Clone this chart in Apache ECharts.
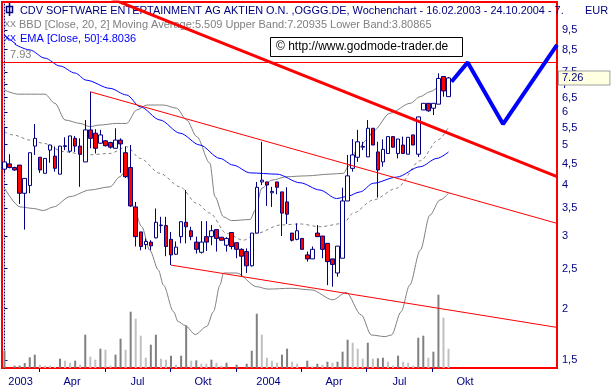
<!DOCTYPE html>
<html><head><meta charset="utf-8">
<script src="https://cdn.jsdelivr.net/npm/echarts@6/dist/echarts.min.js"></script>
<style>html,body{margin:0;padding:0;background:#fff}#c{width:614px;height:392px}</style>
</head><body><div id="c"></div>
<script>
// ---- data (weekly candles: open, close, low, high) ----
const candles = [
[4.36,4.54,4.26,5.48],[4.49,4.40,4.38,4.74],[4.40,4.34,4.32,4.42],[4.46,3.81,3.59,4.46],[3.81,4.14,3.11,4.14],
[3.98,4.78,3.81,4.78],[4.96,5.18,4.72,5.61],[4.66,4.34,4.27,4.66],[4.26,4.63,4.26,4.63],[4.85,4.99,4.52,5.00],
[4.69,4.38,4.30,4.95],[4.24,4.96,4.24,4.96],[4.95,4.97,4.85,5.21],[4.82,5.25,4.78,5.25],[5.18,4.96,4.80,5.25],
[4.96,4.74,3.95,5.18],[4.54,5.43,4.54,5.74],[5.43,5.18,4.90,6.72],[5.33,4.90,4.76,5.45],[5.04,5.28,5.02,5.43],
[5.11,4.97,4.95,5.13],[5.06,4.93,4.89,5.08],[4.90,5.13,4.90,5.48],[5.13,5.02,4.27,5.18],[4.78,4.18,4.15,4.95],
[4.40,3.55,3.53,4.99],[3.53,2.99,2.83,3.63],[3.07,2.83,2.77,3.07],[2.86,2.91,2.785,2.96],[2.90,2.84,2.77,2.93],
[2.97,3.24,2.96,3.50],[3.18,3.19,3.05,3.34],[3.18,2.83,2.68,3.34],[2.945,2.70,2.55,3.07],[2.71,2.82,2.70,2.91],
[2.99,3.25,2.88,3.25],[3.24,3.16,2.88,3.88],[3.09,2.99,2.93,3.16],[2.90,2.785,2.72,2.99],[2.74,2.90,2.72,3.26],
[2.99,2.90,2.76,3.26],[2.99,3.09,2.85,3.19],[3.11,2.96,2.75,3.11],[2.98,2.93,2.93,2.98],[2.85,2.96,2.75,2.98],
[3.06,2.83,2.785,3.06],[2.89,2.785,2.65,2.89],[2.785,2.68,2.39,2.80],[2.75,2.54,2.44,2.80],[2.54,3.05,2.53,3.05],
[3.05,3.94,3.05,4.06],[4.06,4.10,3.99,5.08],[4.06,3.99,3.55,4.06],[3.82,3.85,3.53,3.95],[4.06,3.94,3.79,4.06],
[3.84,3.41,3.00,3.84],[3.63,3.39,3.21,3.94],[3.05,2.93,2.91,3.05],[2.945,3.09,2.93,3.22],[2.96,2.785,2.785,2.96],
[2.70,2.64,2.60,2.75],[2.64,2.785,2.64,2.83],[3.05,2.99,2.99,3.19],[3.00,2.785,2.65,3.00],[2.88,2.60,2.28,2.88],
[2.64,2.56,2.26,2.64],[2.44,2.835,2.39,2.835],[2.65,3.65,2.65,3.93],[3.65,4.20,3.65,4.72],[4.38,4.72,4.30,5.16],
[4.66,5.08,4.54,5.43],[4.93,4.95,4.85,5.08],[4.67,5.48,4.67,5.74],[5.48,4.99,4.99,5.48],[4.80,4.34,3.72,5.08],
[4.54,4.87,4.42,5.15],[4.76,5.23,4.76,5.23],[5.23,4.93,4.92,5.23],[4.76,5.16,4.63,5.16],[4.99,4.76,4.76,5.23],
[4.74,5.21,4.74,5.21],[5.28,4.99,4.99,5.28],[4.74,5.84,4.67,5.84],[6.07,6.30,6.07,6.30],[6.30,6.04,6.01,6.30],
[6.13,6.30,5.90,6.30],[6.27,7.24,6.27,7.45],[7.32,6.75,6.54,7.34],[6.54,7.26,6.54,7.30]
];
const volumes = [
17.3,0,2.3,2.5,5,10.7,13.3,3.3,2.3,2.3,1.3,9.3,7.3,5.3,7.3,3.3,33.3,11.3,8.3,19.3,
18.3,2.3,13.3,29.3,18.3,56.3,49.3,32.3,10.3,23.3,33.3,9.3,8.3,12.3,3.3,12.3,42.3,7.3,7.6,4.3,
4.3,8.3,5.3,2.3,5.3,0,3.3,0,4.3,17.3,54.3,33.3,10.3,7.3,5.3,13.3,19.3,6.3,4.3,0,
7.3,1.7,4.3,3.3,6.3,5.3,6.3,16.3,28.3,25.3,19.3,9.3,25.3,9.3,9.7,10.3,6.3,2.3,12.3,6.3,
5.3,2.3,30.3,32.3,10.3,16.3,73.3,50.3,19.3
];
// indicator lines: [week index, price]
const bbUpper = [[0,6.78],[2.7,6.63],[8,6.63],[10,6.30],[12,5.74],[15,5.63],[16.9,5.53],[18.9,5.58],[22.2,5.63],[24.2,5.63],[26.2,6.07],[28.2,6.24],[31.5,6.24],[34.1,6.13],[36.1,5.74],[38.1,5.23],[40.7,4.51],[41.7,3.74],[43.4,3.34],[45,3.27],[48.7,3.29],[49.7,3.47],[51,3.92],[53,4.10],[55.9,4.18],[59.9,4.20],[64.5,4.24],[67.2,4.26],[68.1,4.42],[69.8,4.85],[71.8,5.13],[73.1,5.40],[76.4,5.96],[80.4,6.30],[82.4,6.54],[84.3,6.72],[86.3,6.91],[88,7.21]];
const bbLower = [[0,3.92],[3.1,3.53],[5.7,3.50],[7.7,3.46],[9.7,3.53],[13,3.74],[16.9,3.88],[20.9,3.95],[22.9,4.18],[23.9,4.30],[24.9,4.03],[25.5,3.53],[27.2,3.16],[28.8,2.77],[30.5,2.48],[31.5,2.28],[33.5,1.965],[34.4,1.86],[35.8,1.82],[37.8,1.73],[40.1,1.81],[41.4,1.965],[42.7,2.28],[43.4,2.44],[46,2.44],[50,2.26],[52.2,2.23],[56.8,2.24],[60.8,2.22],[65.1,2.10],[67.7,2.19],[70.7,1.93],[72.7,1.725],[75.4,1.71],[76.7,1.725],[78.6,1.965],[80.3,2.28],[82.4,2.77],[84.3,3.37],[86.3,3.67],[88,3.81]];
const bbMid = [[0,5.37],[1.7,5.28],[5.05,5.13],[7.7,5.04],[11.65,4.81],[16.3,4.72],[20.9,4.76],[24.2,4.94],[26.9,4.63],[30.8,4.26],[34.8,3.95],[38.1,3.60],[40.7,3.41],[44,3.045],[47.3,2.93],[50,3.045],[54.6,3.19],[58.6,3.21],[62.5,3.16],[67.2,3.22],[69.1,3.41],[73.1,3.67],[77.7,3.92],[82.4,4.57],[86,5.14],[88,5.51]];
const ema50 = [[2,8.77],[5,8.49],[8,8.11],[11,7.76],[14,7.46],[16.2,7.17],[20.9,6.85],[24.2,6.60],[26.9,6.18],[30.8,5.74],[34.8,5.33],[38.7,4.99],[42.7,4.63],[45.3,4.46],[48.7,4.27],[54,4.24],[58.6,4.04],[62.5,3.88],[65.8,3.70],[67.8,3.74],[70.5,3.84],[73.1,4.03],[77.7,4.17],[82.4,4.42],[85.7,4.63],[88,4.80]];
const trendMain = [[21,11.33],[109.5,4.18]];
const trendUpper = [[17,6.72],[109.5,3.22]];
const trendLower = [[33,2.55],[109.5,1.80]];
const projection = [[88.6,7.11],[91.8,7.92],[98.8,5.61],[109.5,8.73]];
const resistance = 7.93;
const lastPrice = 7.26;
const yTicks = [1.5,2,2.5,3,3.5,4,4.5,5,5.5,6,6.5,7,7.5,8.5,9.5];
const xLabels = ['2003','Apr','Jul','Okt','2004','Apr','Jul','Okt'];
const titleText = 'CDV SOFTWARE ENTERTAINMENT AG AKTIEN O.N. ,OGGG.DE, Wochenchart - 16.02.2003 - 24.10.2004 - 7.';
const bbText = 'BBD [Close, 20, 2] Moving Average:5.509 Upper Band:7.20935 Lower Band:3.80865';
const emaText = 'EMA [Close, 50]:4.8036';
const copyText = '\u00A9 http://www.godmode-trader.de';

// ---- layout ----
const NCAT = 110;
const start = new Date(Date.UTC(2003,1,16));
const cats = [];
for (let i = 0; i < NCAT; i++) {
  const d = new Date(start.getTime() + i*7*86400000);
  cats.push(d.toISOString().slice(0,10));
}
const firstTick = 6.89, quarter = 12.98;
const xTickPos = [0,1,2,3,4,5,6].map(k => +(firstTick + k*quarter).toFixed(2));
const xLabelPos = xLabels.map((t,k) => k === 0 ? 3.17 : +(firstTick + (k-0.5)*quarter).toFixed(2));
const labelMap = {};
xLabelPos.forEach((p,k) => labelMap[p.toFixed(2)] = xLabels[k]);

const FONT = '"Liberation Sans", Arial, sans-serif';
const NAVY = '#000080';
const chart = echarts.init(document.getElementById('c'), null, {renderer:'canvas'});

const lineS = (data, color, width, type, z) => ({
  type:'line', xAxisIndex:2, yAxisIndex:0, data, showSymbol:false, symbol:'none',
  smooth: false, lineStyle:{color, width, type: type || 'solid'}, z, silent:true, clip:true
});
const smoothS = (data, color, width, type, z) => Object.assign(lineS(data,color,width,type,z), {smooth:0.3, smoothMonotone:'x'});

chart.setOption({
  animation:false,
  backgroundColor:'#ffffff',
  grid:[
    {left:2, right:57, top:2, bottom:24, show:true, borderColor:'#ff0000', borderWidth:2, backgroundColor:'transparent'},
    {left:2, right:57, top:268, bottom:24}
  ],
  xAxis:[
    {type:'category', gridIndex:0, data:cats, show:false},
    {type:'category', gridIndex:1, data:cats, show:false},
    {type:'value', gridIndex:0, min:-0.5, max:109.5, position:'bottom',
     axisLine:{show:false}, splitLine:{show:false},
     axisTick:{show:true, customValues:xTickPos, length:4, lineStyle:{color:NAVY}},
     axisLabel:{customValues:xLabelPos, color:NAVY, fontFamily:FONT, fontSize:11, margin:8,
       formatter:v => labelMap[(+v).toFixed(2)] || ''}}
  ],
  yAxis:[
    {type:'log', gridIndex:0, position:'right', min:1.4346, max:11.1, offset:2,
     axisLine:{show:true, lineStyle:{color:NAVY, type:[1,2], width:1}},
     axisTick:{show:true, length:3, customValues:yTicks, lineStyle:{color:NAVY}},
     axisLabel:{customValues:yTicks, color:NAVY, fontFamily:FONT, fontSize:11, margin:3,
       formatter:v => String(+(+v).toFixed(2)).replace('.', ',')},
     splitLine:{show:false}},
    {type:'value', gridIndex:1, min:0, max:100, show:false}
  ],
  series:[
    {type:'bar', xAxisIndex:1, yAxisIndex:1, data:volumes, barWidth:2, z:1, silent:true,
     itemStyle:{color: p => (p.dataIndex === 0 || volumes[p.dataIndex] > volumes[p.dataIndex-1]) ? '#808080' : '#c0c0c0'}},
    smoothS(bbUpper, '#808080', 1, 'solid', 2),
    smoothS(bbLower, '#808080', 1, 'solid', 2),
    smoothS(bbMid, '#808080', 1, [3,3], 2),
    smoothS(ema50, '#0000ff', 1, 'solid', 2),
    {type:'candlestick', xAxisIndex:0, yAxisIndex:0, data:candles.map(c => [c[0],c[1],c[2],c[3]]),
     barWidth:4, z:3, silent:true,
     itemStyle:{color:'#ffffff', color0:'#ff0000', borderColor:NAVY, borderColor0:NAVY, borderWidth:1},
     markLine:{silent:true, symbol:'none', animation:false, data:[
       {yAxis:resistance, lineStyle:{color:'#ff0000', width:1, type:'solid'},
        label:{show:true, position:'insideStartTop', formatter:String(resistance), color:'#808080', fontFamily:FONT, fontSize:11, distance:[8,2]}}
     ]}},
    lineS(trendMain, '#ff0000', 3, 'solid', 4),
    lineS(trendUpper, '#ff0000', 1, 'solid', 4),
    lineS(trendLower, '#ff0000', 1, 'solid', 4),
    lineS(projection, '#0000ff', 4, 'solid', 5),
    {type:'line', xAxisIndex:2, yAxisIndex:0, data:[], silent:true, z:10,
     markLine:{silent:true, symbol:'none', animation:false, data:[
       {yAxis:lastPrice, lineStyle:{color:'rgba(0,0,0,0)', width:0},
        label:{show:true, position:'end', formatter:String(lastPrice), color:NAVY, fontFamily:FONT, fontSize:11, distance:2,
          backgroundColor:'#ffffe1', borderColor:'#a0a0a0', borderWidth:1, padding:[1,26,1,3], align:'left'}}
     ]}}
  ],
  graphic:[
    {type:'group', z:100, children:[
      {type:'rect', shape:{x:6.5, y:6.5, width:6, height:6}, style:{fill:'#ffffff', stroke:NAVY, lineWidth:1.5}},
      {type:'line', shape:{x1:9.5, y1:3, x2:9.5, y2:16}, style:{stroke:NAVY, lineWidth:1.5}},
      {type:'text', x:20, y:11, style:{text:titleText, fill:NAVY, font:'10.9px ' + FONT, verticalAlign:'middle'}},
      {type:'text', x:4, y:25, style:{text:'XX', fill:'#808080', font:'9px ' + FONT, verticalAlign:'middle'}},
      {type:'text', x:19, y:25, style:{text:bbText, fill:'#808080', font:'11px ' + FONT, verticalAlign:'middle'}},
      {type:'text', x:4, y:39, style:{text:'XX', fill:'#0000ff', font:'9px ' + FONT, verticalAlign:'middle'}},
      {type:'line', shape:{x1:4, y1:35, x2:16, y2:44}, style:{stroke:'#0000ff', lineWidth:1}},
      {type:'text', x:20, y:39, style:{text:emaText, fill:'#0000ff', font:'11px ' + FONT, verticalAlign:'middle'}},
      {type:'rect', shape:{x:270.5, y:37.5, width:192, height:19}, style:{fill:'#ffffff', stroke:'#000000', lineWidth:1}},
      {type:'text', x:276, y:47, style:{text:copyText, fill:'#000000', font:'12px ' + FONT, verticalAlign:'middle'}},
      {type:'text', x:585, y:11, style:{text:'EUR', fill:NAVY, font:'11px ' + FONT, verticalAlign:'middle'}}
    ]}
  ]
});
</script></body></html>
